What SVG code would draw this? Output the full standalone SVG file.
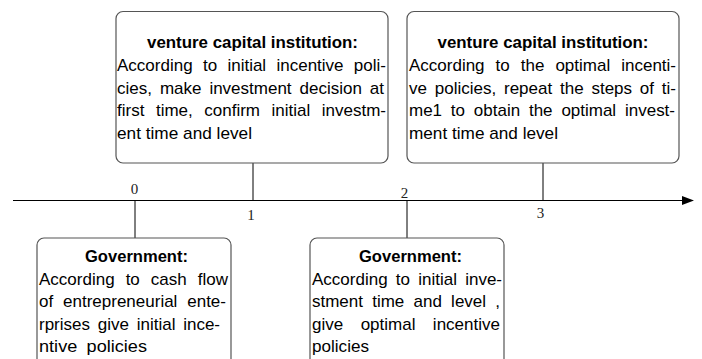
<svg xmlns="http://www.w3.org/2000/svg" width="702" height="359" viewBox="0 0 702 359">
<style>
.box{fill:#fff;stroke:#555;stroke-width:1.2}
.t{font-family:"Liberation Sans",Arial,sans-serif;font-size:17px;fill:#000}
.b{font-weight:bold;text-anchor:middle}
.n{font-family:"Liberation Serif","Times New Roman",serif;font-size:15px;fill:#222;text-anchor:middle}
.c{stroke:#000;stroke-width:1;fill:none}
</style>
<rect width="702" height="359" fill="#fff"/>
<g id="connectors">
<line class="c" x1="13" y1="200.5" x2="684" y2="200.5" stroke-width="1.3"/>
<polygon points="682,196 694,200.5 682,205" fill="#000"/>
<line class="c" x1="253" y1="163" x2="253" y2="200.5"/>
<line class="c" x1="543" y1="163" x2="543" y2="200.5"/>
<line class="c" x1="135" y1="200.5" x2="135" y2="238"/>
<line class="c" x1="407" y1="200.5" x2="407" y2="238"/>
</g>
<g id="ticks">
<text class="n" x="134.5" y="194">0</text>
<text class="n" x="251" y="220">1</text>
<text class="n" x="404.5" y="198">2</text>
<text class="n" x="540.5" y="218">3</text>
</g>
<g id="vc1">
<rect class="box" x="116" y="11.5" width="272" height="151.5" rx="7"/>
<text class="t b" x="252.5" y="48" textLength="211" lengthAdjust="spacingAndGlyphs">venture capital institution:</text>
<text class="t" x="117" y="71" word-spacing="5.6" textLength="269" lengthAdjust="spacingAndGlyphs">According to initial incentive poli-</text>
<text class="t" x="117" y="93.5" word-spacing="3.2" textLength="267" lengthAdjust="spacingAndGlyphs">cies, make investment decision at</text>
<text class="t" x="117" y="116" word-spacing="6.8" textLength="269" lengthAdjust="spacingAndGlyphs">first time, confirm initial investm-</text>
<text class="t" x="117" y="138.5" textLength="135" lengthAdjust="spacingAndGlyphs">ent time and level</text>
</g>
<g id="vc2">
<rect class="box" x="407" y="11.5" width="272" height="151.5" rx="7"/>
<text class="t b" x="543" y="48" textLength="211" lengthAdjust="spacingAndGlyphs">venture capital institution:</text>
<text class="t" x="409" y="71" word-spacing="6.3" textLength="267" lengthAdjust="spacingAndGlyphs">According to the optimal incenti-</text>
<text class="t" x="409" y="93.5" word-spacing="3.1" textLength="267" lengthAdjust="spacingAndGlyphs">ve policies, repeat the steps of ti-</text>
<text class="t" x="409" y="116" word-spacing="4.1" textLength="266" lengthAdjust="spacingAndGlyphs">me1 to obtain the optimal invest-</text>
<text class="t" x="409" y="138.5" textLength="149" lengthAdjust="spacingAndGlyphs">ment time and level</text>
</g>
<g id="gov1">
<rect class="box" x="37" y="238" width="194" height="140" rx="7"/>
<text class="t b" x="136.5" y="262" textLength="103" lengthAdjust="spacingAndGlyphs">Government:</text>
<text class="t" x="39" y="284.5" word-spacing="6.3" textLength="189" lengthAdjust="spacingAndGlyphs">According to cash flow</text>
<text class="t" x="39" y="307" word-spacing="5.1" textLength="187" lengthAdjust="spacingAndGlyphs">of entrepreneurial ente-</text>
<text class="t" x="39" y="329.5" word-spacing="3" textLength="181" lengthAdjust="spacingAndGlyphs">rprises give initial ince-</text>
<text class="t" x="39" y="352" word-spacing="4" textLength="108" lengthAdjust="spacingAndGlyphs">ntive policies</text>
</g>
<g id="gov2">
<rect class="box" x="310" y="238" width="194" height="140" rx="7"/>
<text class="t b" x="410.5" y="262" textLength="103" lengthAdjust="spacingAndGlyphs">Government:</text>
<text class="t" x="312" y="284.5" word-spacing="3.5" textLength="190" lengthAdjust="spacingAndGlyphs">According to initial inve-</text>
<text class="t" x="312" y="307" word-spacing="4.5" textLength="188" lengthAdjust="spacingAndGlyphs">stment time and level ,</text>
<text class="t" x="312" y="329.5" word-spacing="12.7" textLength="188" lengthAdjust="spacingAndGlyphs">give optimal incentive</text>
<text class="t" x="312" y="352" textLength="57" lengthAdjust="spacingAndGlyphs">policies</text>
</g>
</svg>
